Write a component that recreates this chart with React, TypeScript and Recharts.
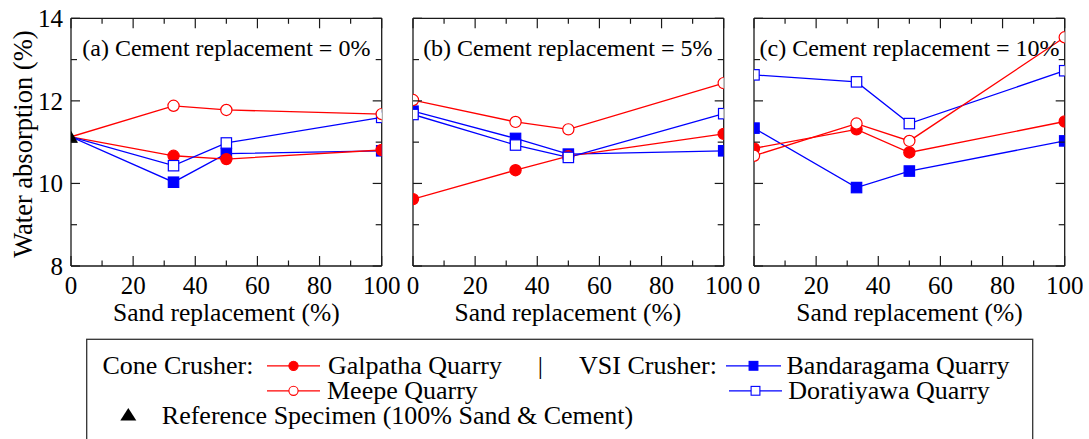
import React from 'react';
import { ComposedChart, Line, XAxis, YAxis } from 'recharts';

// ---------------- data ----------------
const sandReplacement = [0, 33, 50, 100];
const panelTitles = [
  '(a) Cement replacement = 0%',
  '(b) Cement replacement = 5%',
  '(c) Cement replacement = 10%',
];
const referenceSpecimen = 11.13; // 100% sand & cement (panel a, x = 0)

// rows: panel a (0%), b (5%), c (10%); columns follow sandReplacement
const galpatha = [
  [11.13, 10.67, 10.59, 10.81],
  [9.62, 10.32, 10.66, 11.2],
  [10.85, 11.31, 10.75, 11.5],
];
const meepe = [
  [11.13, 11.88, 11.78, 11.68],
  [12.02, 11.49, 11.31, 12.43],
  [10.67, 11.45, 11.03, 13.54],
];
const bandaragama = [
  [11.13, 10.03, 10.72, 10.79],
  [11.75, 11.09, 10.71, 10.79],
  [11.34, 9.9, 10.3, 11.03],
];
const doratiyawa = [
  [11.13, 10.43, 10.98, 11.6],
  [11.67, 10.93, 10.63, 11.69],
  [12.63, 12.46, 11.45, 12.73],
];

const xTicks = [0, 10, 20, 30, 40, 50, 60, 70, 80, 90, 100];
const yTicks = [8, 9, 10, 11, 12, 13, 14];

// ---------------- styling / layout ----------------
const FONT = '"Liberation Serif", "Times New Roman", serif';
const RED = '#ff0000';
const BLUE = '#0000ff';
const AXIS = '#1a1a1a';

const PLOT_TOP = 18.3;
const PLOT_BOTTOM = 266;
const PLOT_W = 310.7;
const PLOT_LEFTS = [71, 412.5, 754.2];
const CHART_W = 400;
const CHART_H = 330;
const M_LEFT = 71;
const AX = 1; // axis band size (kept tiny; ticks are drawn inward)

type Shape = 'circle' | 'square';
// drawing order (later on top)
const seriesDefs: { key: string; name: string; color: string; shape: Shape; filled: boolean; values: number[][] }[] = [
  { key: 'bandaragama', name: 'Bandaragama Quarry', color: BLUE, shape: 'square', filled: true, values: bandaragama },
  { key: 'galpatha', name: 'Galpatha Quarry', color: RED, shape: 'circle', filled: true, values: galpatha },
  { key: 'doratiyawa', name: 'Doratiyawa Quarry', color: BLUE, shape: 'square', filled: false, values: doratiyawa },
  { key: 'meepe', name: 'Meepe Quarry', color: RED, shape: 'circle', filled: false, values: meepe },
];

const panelData = panelTitles.map((_, p) =>
  sandReplacement.map((x, i) => {
    const row: any = { x, reference: p === 0 && i === 0 ? referenceSpecimen : null };
    seriesDefs.forEach((s) => {
      row[s.key] = s.values[p][i];
    });
    return row;
  })
);

function Marker({ cx, cy, shape, filled, color, r, sw }: { cx: number; cy: number; shape: Shape; filled: boolean; color: string; r: number; sw: number }) {
  const fill = filled ? color : '#ffffff';
  if (shape === 'circle') return <circle cx={cx} cy={cy} r={r} fill={fill} stroke={color} strokeWidth={sw} />;
  return <rect x={cx - r} y={cy - r} width={2 * r} height={2 * r} fill={fill} stroke={color} strokeWidth={sw} />;
}

function Triangle({ cx, cy, w, h }: { cx: number; cy: number; w: number; h: number }) {
  return <polygon points={`${cx - w / 2},${cy + h / 2} ${cx + w / 2},${cy + h / 2} ${cx},${cy - h / 2}`} fill="#000" />;
}

function makeDot(shape: Shape, filled: boolean, color: string, hasReference: boolean) {
  return (p: any) => {
    const { cx, cy, value, payload, index } = p;
    if (cx == null || cy == null || value == null || (hasReference && payload && payload.x === 0)) {
      return <g key={`e${index}`} />;
    }
    return (
      <g key={`d${index}`}>
        <Marker cx={cx} cy={cy} shape={shape} filled={filled} color={color} r={shape === 'circle' ? 5.6 : 5.2} sw={1.2} />
      </g>
    );
  };
}

const triangleDot = (p: any) => {
  const { cx, cy, value, index } = p;
  if (cx == null || cy == null || value == null) return <g key={`t${index}`} />;
  return (
    <g key={`t${index}`}>
      <Triangle cx={cx} cy={cy} w={14} h={12} />
    </g>
  );
};

const tickText = { fontFamily: FONT, fontSize: 25, fill: '#000' };

const BottomTick = (props: any) => {
  const { x, y, payload } = props;
  const major = payload.value % 20 === 0;
  return (
    <g>
      <line x1={x} y1={y} x2={x} y2={y - (major ? 10 : 5.5)} stroke={AXIS} strokeWidth={1.2} />
      {major && (
        <text x={x} y={y + 28} textAnchor="middle" {...tickText}>
          {payload.value}
        </text>
      )}
    </g>
  );
};

const TopTick = (props: any) => {
  const { x, y, payload } = props;
  const major = payload.value % 20 === 0;
  return <line x1={x} y1={y} x2={x} y2={y + (major ? 10 : 5.5)} stroke={AXIS} strokeWidth={1.2} />;
};

const makeLeftTick = (showLabel: boolean) => (props: any) => {
  const { x, y, payload } = props;
  const major = payload.value % 2 === 0;
  return (
    <g>
      <line x1={x} y1={y} x2={x + (major ? 9 : 6)} y2={y} stroke={AXIS} strokeWidth={1.2} />
      {showLabel && major && (
        <text x={x - 8} y={y + 8.8} textAnchor="end" {...tickText}>
          {payload.value}
        </text>
      )}
    </g>
  );
};

const RightTick = (props: any) => {
  const { x, y, payload } = props;
  const major = payload.value % 2 === 0;
  return <line x1={x} y1={y} x2={x - (major ? 9 : 6)} y2={y} stroke={AXIS} strokeWidth={1.2} />;
};

function Panel({ p }: { p: number }) {
  const left = PLOT_LEFTS[p] - M_LEFT;
  const hasReference = p === 0;
  const axisLine = { stroke: AXIS, strokeWidth: 1.3 };
  return (
    <div style={{ position: 'absolute', left, top: 0, width: CHART_W, height: CHART_H }}>
      <ComposedChart
        width={CHART_W}
        height={CHART_H}
        data={panelData[p]}
        margin={{
          top: PLOT_TOP - AX,
          left: M_LEFT - AX,
          right: CHART_W - M_LEFT - PLOT_W - AX,
          bottom: CHART_H - PLOT_BOTTOM - AX,
        }}
      >
        <XAxis
          dataKey="x"
          type="number"
          domain={[0, 100]}
          ticks={xTicks}
          interval={0}
          height={AX}
          tickSize={0}
          tickMargin={0}
          axisLine={axisLine}
          tickLine={false}
          tick={BottomTick}
          allowDataOverflow
        />
        <XAxis
          xAxisId="top"
          orientation="top"
          dataKey="x"
          type="number"
          domain={[0, 100]}
          ticks={xTicks}
          interval={0}
          height={AX}
          tickSize={0}
          tickMargin={0}
          axisLine={axisLine}
          tickLine={false}
          tick={TopTick}
          allowDataOverflow
        />
        <YAxis
          type="number"
          domain={[8, 14]}
          ticks={yTicks}
          interval={0}
          width={AX}
          tickSize={0}
          tickMargin={0}
          axisLine={axisLine}
          tickLine={false}
          tick={makeLeftTick(p === 0)}
          allowDataOverflow
        />
        <YAxis
          yAxisId="right"
          orientation="right"
          type="number"
          domain={[8, 14]}
          ticks={yTicks}
          interval={0}
          width={AX}
          tickSize={0}
          tickMargin={0}
          axisLine={axisLine}
          tickLine={false}
          tick={RightTick}
          allowDataOverflow
        />
        {seriesDefs.map((s) => (
          <Line
            key={s.key}
            dataKey={s.key}
            type="linear"
            stroke={s.color}
            strokeWidth={1.3}
            dot={makeDot(s.shape, s.filled, s.color, hasReference)}
            activeDot={false}
            isAnimationActive={false}
          />
        ))}
        {hasReference && (
          <Line
            dataKey="reference"
            stroke="none"
            dot={triangleDot}
            activeDot={false}
            isAnimationActive={false}
          />
        )}
      </ComposedChart>
    </div>
  );
}

const legendRows = {
  row1: 374.3,
  row2: 399.3,
  row3: 424.3,
};

function Overlay() {
  const lf = { fontFamily: FONT, fontSize: 26, fill: '#000' };
  const galp = seriesDefs.find((s) => s.key === 'galpatha')!;
  const mee = seriesDefs.find((s) => s.key === 'meepe')!;
  const band = seriesDefs.find((s) => s.key === 'bandaragama')!;
  const dor = seriesDefs.find((s) => s.key === 'doratiyawa')!;
  const legendItem = (s: typeof galp, x1: number, x2: number, tx: number, baseline: number) => {
    const cy = baseline - 8.5;
    return (
      <g key={s.key}>
        <line x1={x1} y1={cy} x2={x2} y2={cy} stroke={s.color} strokeWidth={1.3} />
        <Marker cx={(x1 + x2) / 2} cy={cy} shape={s.shape} filled={s.filled} color={s.color} r={s.shape === 'circle' ? 4.6 : 4.4} sw={1.1} />
        <text x={tx} y={baseline} {...lf}>
          {s.name}
        </text>
      </g>
    );
  };
  return (
    <svg width={1089} height={439} style={{ position: 'absolute', left: 0, top: 0, pointerEvents: 'none' }}>
      {panelTitles.map((t, p) => (
        <g key={t}>
          <text x={PLOT_LEFTS[p] + PLOT_W / 2} y={55.5} textAnchor="middle" fontFamily={FONT} fontSize={24} fill="#000">
            {t}
          </text>
          <text x={PLOT_LEFTS[p] + PLOT_W / 2} y={321} textAnchor="middle" fontFamily={FONT} fontSize={25.5} fill="#000">
            Sand replacement (%)
          </text>
        </g>
      ))}
      <text
        transform={`translate(31.5, ${(PLOT_TOP + PLOT_BOTTOM) / 2 + 2}) rotate(-90)`}
        textAnchor="middle"
        fontFamily={FONT}
        fontSize={26.5}
        fill="#000"
      >
        Water absorption (%)
      </text>
      {/* legend */}
      <rect x={86.7} y={339.3} width={946} height={130} fill="#fff" stroke="#333" strokeWidth={1.3} />
      <text x={102.5} y={legendRows.row1} {...lf}>
        Cone Crusher:
      </text>
      {legendItem(galp, 267, 320, 328, legendRows.row1)}
      <text x={540.4} y={legendRows.row1} textAnchor="middle" {...lf}>
        |
      </text>
      <text x={579} y={legendRows.row1} {...lf}>
        VSI Crusher:
      </text>
      {legendItem(band, 726, 781, 786.5, legendRows.row1)}
      {legendItem(mee, 267, 320, 327, legendRows.row2)}
      {legendItem(dor, 729, 782, 788.3, legendRows.row2)}
      <Triangle cx={128.3} cy={legendRows.row3 - 10} w={16} h={12.5} />
      <text x={161.8} y={legendRows.row3} {...lf}>
        Reference Specimen (100% Sand &amp; Cement)
      </text>
    </svg>
  );
}

export default function App() {
  return (
    <div style={{ position: 'absolute', left: 0, top: 0, width: 1089, height: 439, overflow: 'hidden', background: '#fff' }}>
      {panelTitles.map((_, p) => (
        <Panel key={p} p={p} />
      ))}
      <Overlay />
    </div>
  );
}
